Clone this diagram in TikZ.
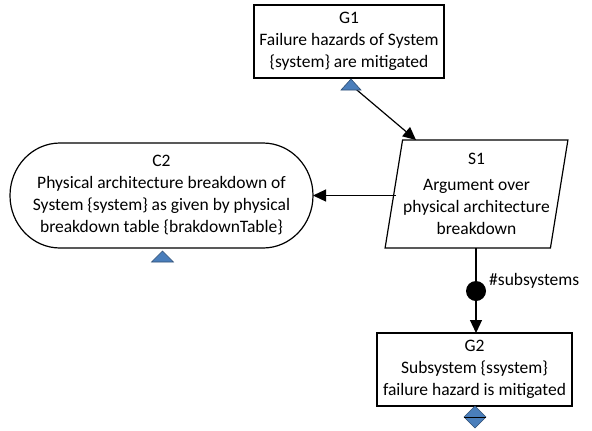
\documentclass[tikz,border=0pt]{standalone}
\usepackage{fontspec}
\setmainfont{Carlito}
\usetikzlibrary{arrows.meta,shapes.geometric,calc}
\definecolor{gsnblue}{HTML}{4A7EBB}
\definecolor{gsnedge}{HTML}{2F4F74}
\tikzset{
  every node/.style={font=\fontsize{17.5bp}{22bp}\selectfont, align=center, inner sep=0pt},
  goalbox/.style={draw, line width=1.2bp, rectangle},
  stratbox/.style={draw, line width=1.2bp, trapezium, trapezium left angle=78,
    trapezium right angle=102, trapezium stretches=true},
  conn/.style={line width=1.2bp},
  arr/.style={conn, -{Triangle[length=13bp,width=12bp]}},
  marker/.style={fill=gsnblue, draw=gsnedge, line width=0.6bp},
}
\begin{document}
\begin{tikzpicture}[x=1bp, y=-1bp]
\useasboundingbox (0,0) rectangle (592,430);
\fill[white] (0,0) rectangle (592,430);

% goal G1
\node[goalbox, minimum width=190bp, minimum height=73bp] (g1) at (349,41.5)
  {G1\\Failure hazards of System\\\{system\} are mitigated};

% strategy S1
\node[stratbox, minimum width=183bp, minimum height=108bp] (s1) at (476.5,194)
  {S1\\[4bp]Argument over\\physical architecture\\breakdown};

% context C2 (stadium with elliptical ends)
\node (c2) at (161.5,195.5)
  {C2\\Physical architecture breakdown of\\System \{system\} as given by physical\\breakdown table \{brakdownTable\}};
\draw[line width=1.2bp] (60,143) -- (263,143)
  arc[start angle=90, end angle=-90, x radius=50, y radius=-52.5]
  -- (60,248)
  arc[start angle=270, end angle=90, x radius=50, y radius=-52.5] -- cycle;
\coordinate (c2east) at (313,195.5);

% goal G2
\node[goalbox, minimum width=195bp, minimum height=73bp] (g2) at (474.5,369.5)
  {G2\\Subsystem \{ssystem\}\\failure hazard is mitigated};

% connector G1 -> S1
\coordinate (g1tri) at (351,85);
\coordinate (s1in) at (416,140);
\draw[arr] (g1tri) -- (s1in);

% connector S1 -> C2
\coordinate (s1west) at (396,195.5);
\draw[arr] (s1west) -- (c2east);

% multiplicity connector S1 -> G2
\coordinate (s1bot) at (476,248);
\coordinate (g2top) at (476,333);
\draw[arr] (s1bot) -- (g2top);
\node[circle, fill=black, minimum size=20bp] (dot) at (476,291) {};
\node[anchor=west] (mult) at (489,281) {\#subsystems};

% markers: triangles below G1 and C2, diamond below G2
\draw[marker] (341,90) -- (351,79) -- (361,90) -- cycle;
\draw[marker] (151.5,262) -- (162.5,251) -- (173.5,262) -- cycle;
\draw[marker] (475,406) -- (486,417) -- (475,428) -- (464,417) -- cycle;
\draw[line width=1bp] (464,417) -- (486,417);
\end{tikzpicture}
\end{document}
